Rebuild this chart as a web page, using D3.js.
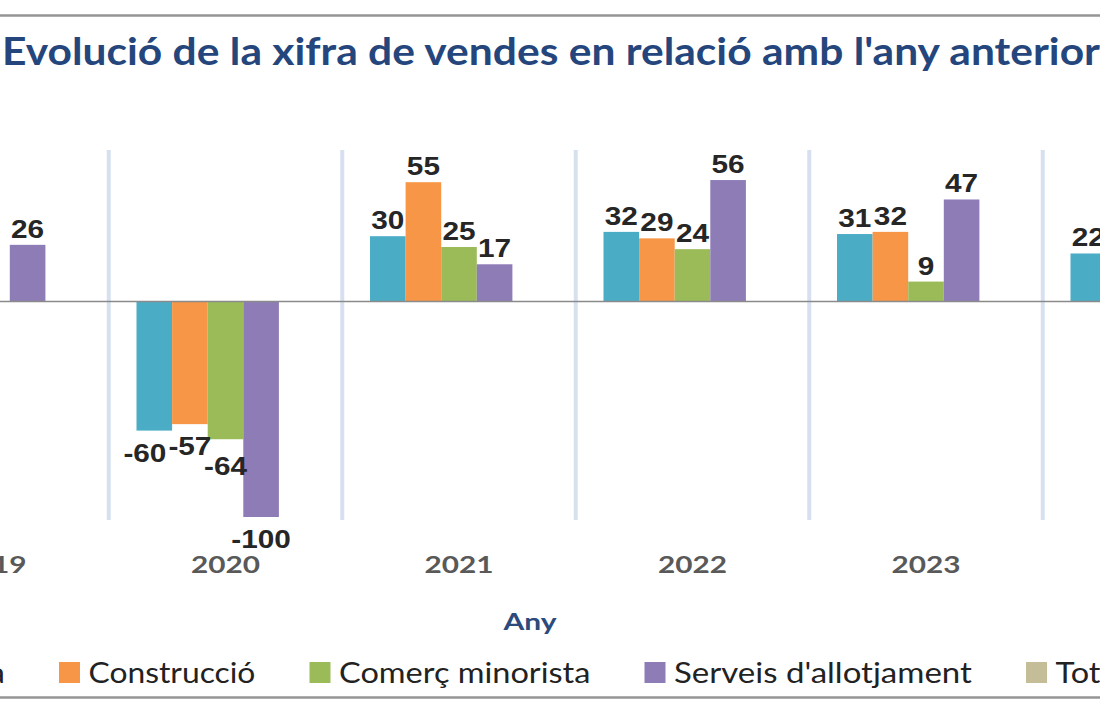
<!DOCTYPE html>
<html><head><meta charset="utf-8">
<script src="https://cdn.jsdelivr.net/npm/d3@7.9.0/dist/d3.min.js"></script>
<style>body{margin:0;background:#fff;overflow:hidden}svg{display:block}</style>
</head><body><svg width="1100" height="710"></svg>
<script>
// data (parts outside the crop left empty)
const years=["2019","2020","2021","2022","2023","2024"];
const series=["Indústria","Construcció","Comerç minorista","Serveis d'allotjament","Total"];
const colors=["#4BACC6","#F79646","#9BBB59","#8E7CB6","#C4BD97"];
const industria=[null,-60,30,32,31,22];
const construccio=[null,-57,55,29,32,null];
const comerc=[null,-64,25,24,9,null];
const serveis=[26,-100,17,56,47,null];
const total=[null,null,null,null,null,null];
const values=[industria,construccio,comerc,serveis,total];
const title="Evolució de la xifra de vendes en relació amb l'any anterior";
const xTitle="Any";

const svg=d3.select("svg");
const color=d3.scaleOrdinal().domain(series).range(colors);
// the picture is a crop of a wider chart, so the band range runs past both edges
const x0=d3.scaleBand().domain(years).range([-124.75,1276.25]).padding(0);
const x1=d3.scaleBand().domain(series).range([27.75,205.75]);
const y=d3.scaleLinear().domain([-100,60]).range([517,171.4]);

const rows=[];
years.forEach((yr,i)=>series.forEach((s,j)=>{if(values[j][i]!=null)rows.push({year:yr,series:s,value:values[j][i]});}));

// frame
svg.append("g").selectAll("line").data([15.5,697.5]).join("line")
 .attr("x1",-5).attr("x2",1105).attr("y1",d=>d).attr("y2",d=>d)
 .attr("stroke","#959595").attr("stroke-width",2.5);

// title
svg.append("text").text(title).attr("x",2).attr("y",65)
 .attr("font-family","Lato").attr("font-weight",700).attr("font-size",38)
 .attr("fill","#25467C").attr("textLength",1098).attr("lengthAdjust","spacingAndGlyphs");

// vertical gridlines between years
svg.append("g").selectAll("line").data(years).join("line")
 .attr("x1",d=>x0(d)).attr("x2",d=>x0(d)).attr("y1",150).attr("y2",520)
 .attr("stroke","#D6E0EF").attr("stroke-width",4);

// bars
svg.append("g").selectAll("rect").data(rows).join("rect")
 .attr("x",d=>x0(d.year)+x1(d.series)).attr("width",x1.bandwidth())
 .attr("y",d=>Math.min(y(d.value),y(0))).attr("height",d=>Math.abs(y(d.value)-y(0)))
 .attr("fill",d=>color(d.series));

// zero axis line
const zero=svg.append("g").attr("transform",`translate(0,${y(0)})`)
 .call(d3.axisBottom(x0).tickSize(0).tickSizeOuter(0).tickFormat(""));
zero.select(".domain").attr("stroke","#8a8a8a").attr("stroke-width",1.3);

// value labels (negative ones dodge each other a little, like the original)
const SX=1.19;
const lbl=svg.append("g").selectAll("text").data(rows).join("text")
 .text(d=>d.value)
 .attr("font-family","Liberation Sans, Arial").attr("font-weight",700).attr("font-size",25)
 .attr("fill","#262626").attr("text-anchor","middle");
const boxes=[];
lbl.each(function(d){
  const cx=x0(d.year)+x1(d.series)+x1.bandwidth()/2;
  const by=d.value>=0?y(d.value)-7:y(d.value)+31;
  boxes.push({el:this,d,cx,by,w:this.getComputedTextLength()*SX});
});
boxes.forEach((b,i)=>{
  const p=boxes[i-1];
  if(!p||b.d.value>=0||p.d.value>=0||p.d.year!==b.d.year)return;
  const ov=(p.cx+p.w/2)-(b.cx-b.w/2);
  if(ov<=0||b.by-18>=p.by)return;
  const first=i<2||boxes[i-2].d.year!==b.d.year;
  if(first)p.cx-=ov+2;else b.by=p.by+20;
});
boxes.forEach(b=>d3.select(b.el).attr("transform",`translate(${b.cx},${b.by}) scale(${SX},1)`));

// year labels
const xa=svg.append("g").call(d3.axisBottom(x0).tickSize(0).tickSizeOuter(0));
xa.select(".domain").remove();
xa.selectAll("text").attr("y",573).attr("dy",0)
 .attr("font-family","Lato").attr("font-weight",700).attr("font-size",23.5)
 .attr("fill","#595959").attr("textLength",69).attr("lengthAdjust","spacingAndGlyphs");

// axis title
svg.append("text").text(xTitle).attr("x",530).attr("y",630).attr("text-anchor","middle")
 .attr("font-family","Lato").attr("font-weight",700).attr("font-size",23.5)
 .attr("fill","#2C4A7C").attr("textLength",53).attr("lengthAdjust","spacingAndGlyphs");

// legend: text widths matched to the original (Calibri is wider than Lato)
const legendWidth={"Construcció":167,"Comerç minorista":251.5,"Serveis d'allotjament":298};
const lg=svg.append("g");
const items=lg.selectAll("g").data(series).join("g");
items.append("rect").attr("width",21).attr("height",21).attr("y",662).attr("fill",d=>color(d));
const lt=items.append("text").text(d=>d).attr("y",683)
 .attr("font-family","Lato").attr("font-size",29).attr("fill","#222");
const nat=lt.nodes().map(n=>n.getComputedTextLength());
const known=series.map((s,i)=>legendWidth[s]?legendWidth[s]/nat[i]:null).filter(v=>v);
const avg=d3.mean(known);
const scl=series.map((s,i)=>legendWidth[s]?legendWidth[s]/nat[i]:avg);
const widths=nat.map((w,i)=>w*scl[i]);
let pos=59-(29.5+widths[0]+54);
items.each(function(d,i){
  d3.select(this).select("rect").attr("x",pos);
  d3.select(this).select("text").attr("transform",`translate(${pos+29.5},0) scale(${scl[i]},1)`);
  pos+=29.5+widths[i]+54;
});
</script></body></html>
